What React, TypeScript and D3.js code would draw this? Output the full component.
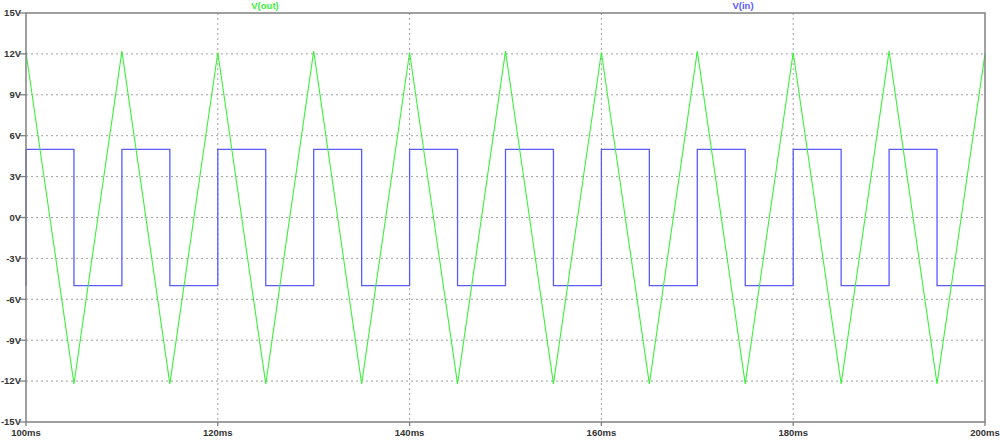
import React, { useRef, useEffect } from 'react';
import * as d3 from 'd3';

// time axis ticks (ms) and voltage ticks (V)
const timeTicks = [100, 120, 140, 160, 180, 200];
const voltTicks = [15, 12, 9, 6, 3, 0, -3, -6, -9, -12, -15];

// V(out): triangle vertices
const outTimes = [100, 105, 110, 115, 120, 125, 130, 135, 140, 145, 150, 155, 160, 165, 170, 175, 180, 185, 190, 195, 200];
const outValues = [12.1, -12.2, 12.2, -12.2, 12.1, -12.2, 12.2, -12.2, 12.1, -12.2, 12.2, -12.2, 12.1, -12.2, 12.2, -12.2, 12.1, -12.2, 12.2, -12.2, 12.0];

// V(in): square wave corners
const inTimes = [100, 100, 105, 105, 110, 110, 115, 115, 120, 120, 125, 125, 130, 130, 135, 135, 140, 140, 145, 145, 150, 150, 155, 155, 160, 160, 165, 165, 170, 170, 175, 175, 180, 180, 185, 185, 190, 190, 195, 195, 200];
const inValues = [-5, 5, 5, -5, -5, 5, 5, -5, -5, 5, 5, -5, -5, 5, 5, -5, -5, 5, 5, -5, -5, 5, 5, -5, -5, 5, 5, -5, -5, 5, 5, -5, -5, 5, 5, -5, -5, 5, 5, -5, -5];

const W = 1000;
const H = 441;

const App: React.FC = () => {
  const svgRef = useRef<SVGSVGElement | null>(null);

  useEffect(() => {
    if (!svgRef.current) return;
    const svg = d3.select(svgRef.current);
    svg.selectAll('*').remove();

    const left = 26, right = 985, top = 13, bottom = 422;
    const x = d3.scaleLinear().domain([100, 200]).range([left, right]);
    const y = d3.scaleLinear().domain([-15, 15]).range([bottom, top]);

    const font = 'Liberation Sans, Arial, sans-serif';

    // grid
    const grid = svg.append('g');
    grid.selectAll('.hg')
      .data(voltTicks.filter(v => v !== 15 && v !== -15))
      .enter().append('line')
      .attr('x1', left).attr('x2', right)
      .attr('y1', d => y(d)).attr('y2', d => y(d))
      .attr('stroke', '#a0a0a0').attr('stroke-width', 1)
      .attr('stroke-dasharray', '2,3');
    grid.selectAll('.vg')
      .data(timeTicks.filter(t => t !== 100 && t !== 200))
      .enter().append('line')
      .attr('y1', top).attr('y2', bottom)
      .attr('x1', d => x(d)).attr('x2', d => x(d))
      .attr('stroke', '#a0a0a0').attr('stroke-width', 1)
      .attr('stroke-dasharray', '2,3');

    // traces
    const line = d3.line<[number, number]>().x(d => x(d[0])).y(d => y(d[1]));
    svg.append('path')
      .datum(inTimes.map((t, i) => [t, inValues[i]] as [number, number]))
      .attr('d', line)
      .attr('fill', 'none')
      .attr('stroke', '#5a5aff')
      .attr('stroke-width', 1.3);
    svg.append('path')
      .datum(outTimes.map((t, i) => [t, outValues[i]] as [number, number]))
      .attr('d', line)
      .attr('fill', 'none')
      .attr('stroke', '#3cf03c')
      .attr('stroke-width', 1.1);

    // frame
    svg.append('rect')
      .attr('x', left).attr('y', top)
      .attr('width', right - left).attr('height', bottom - top)
      .attr('fill', 'none')
      .attr('stroke', '#808080')
      .attr('stroke-width', 1.5);

    // y ticks
    const yt = svg.append('g');
    voltTicks.forEach(v => {
      yt.append('line')
        .attr('x1', left - 6).attr('x2', left)
        .attr('y1', y(v)).attr('y2', y(v))
        .attr('stroke', '#808080').attr('stroke-width', 1.3);
      yt.append('text')
        .attr('x', left - 5).attr('y', y(v))
        .attr('dy', '0.35em')
        .attr('text-anchor', 'end')
        .attr('font-family', font)
        .attr('font-weight', 'bold')
        .attr('font-size', '9.5px')
        .attr('fill', '#333')
        .text(`${v}V`);
    });

    // x ticks
    const xt = svg.append('g');
    timeTicks.forEach(t => {
      xt.append('line')
        .attr('x1', x(t)).attr('x2', x(t))
        .attr('y1', bottom).attr('y2', bottom + 4)
        .attr('stroke', '#808080').attr('stroke-width', 1.3);
      xt.append('text')
        .attr('x', x(t)).attr('y', 436)
        .attr('text-anchor', 'middle')
        .attr('font-family', font)
        .attr('font-weight', 'bold')
        .attr('font-size', '9.5px')
        .attr('fill', '#333')
        .text(`${t}ms`);
    });

    // legend
    svg.append('text')
      .attr('x', 265).attr('y', 9)
      .attr('text-anchor', 'middle')
      .attr('font-family', font).attr('font-weight', 'bold').attr('font-size', '9.5px')
      .attr('fill', '#3cf03c')
      .text('V(out)');
    svg.append('text')
      .attr('x', 743).attr('y', 9)
      .attr('text-anchor', 'middle')
      .attr('font-family', font).attr('font-weight', 'bold').attr('font-size', '9.5px')
      .attr('fill', '#5a5aff')
      .text('V(in)');
  }, []);

  return (
    <svg
      ref={svgRef}
      width={W}
      height={H}
      style={{ position: 'absolute', left: 0, top: 0, background: '#fff', display: 'block' }}
    />
  );
};

export default App;
